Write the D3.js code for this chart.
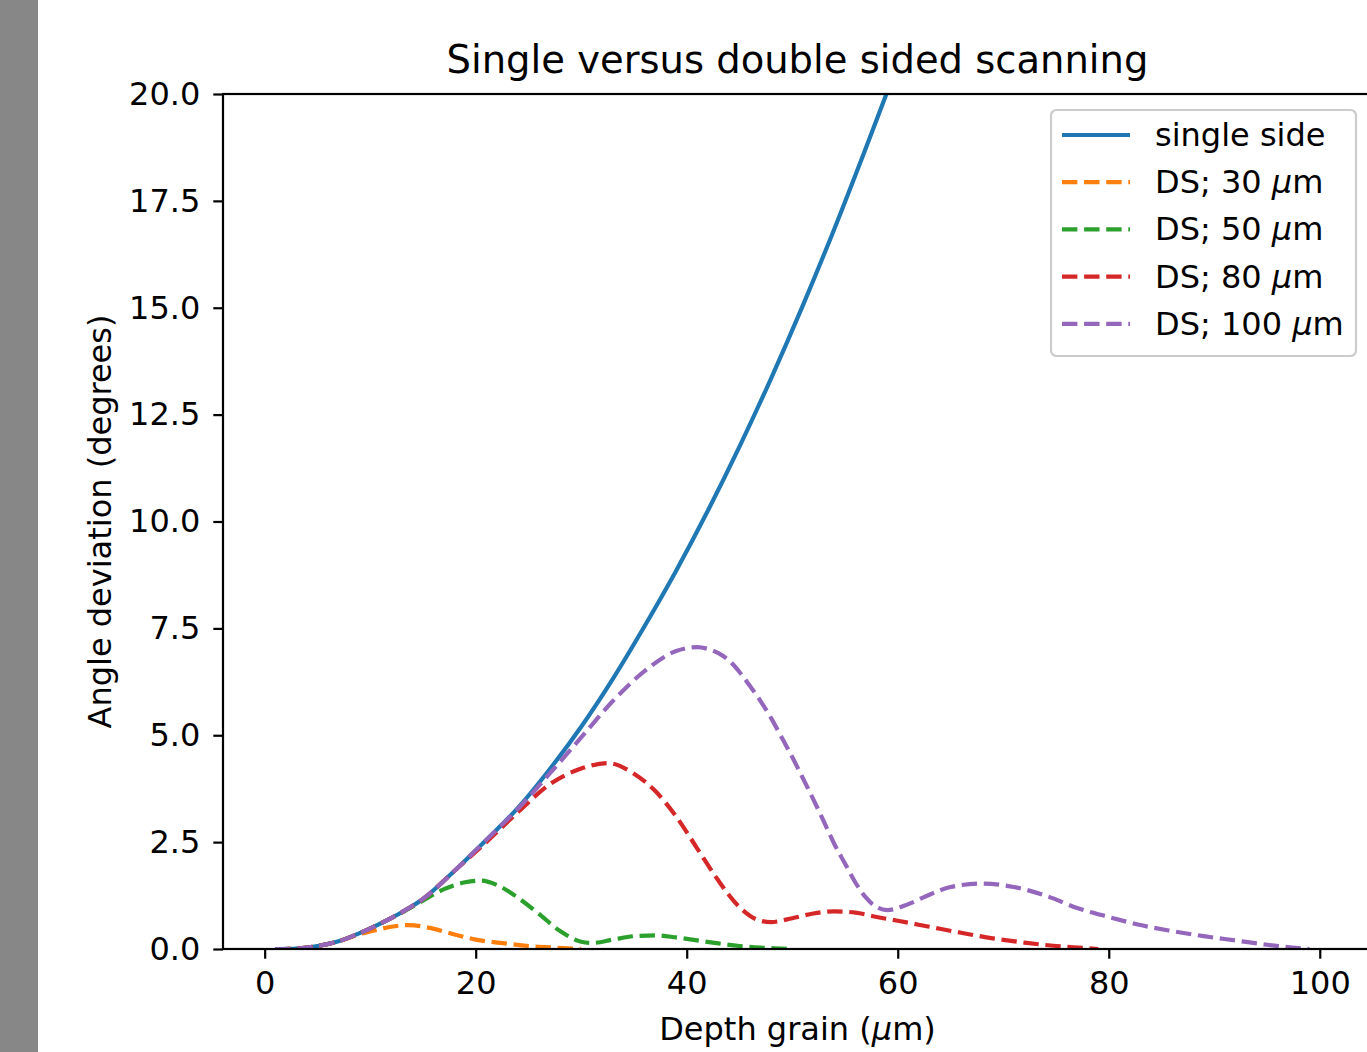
<!DOCTYPE html>
<html>
<head>
<meta charset="utf-8">
<script src="https://cdn.jsdelivr.net/npm/d3@7"></script>
<style>
  body { margin: 0; background: #fff; }
  text { font-family: "DejaVu Sans", sans-serif; fill: #000; }
</style>
</head>
<body>
<svg id="canvas" width="1367" height="1052"></svg>
<script>
// values
const singleX = [1, 3, 5, 7, 9, 11, 13, 15, 18, 21, 24, 27, 30, 33, 36, 39, 42, 45, 48, 51, 54, 57, 60, 62];
const singleY = [0, 0.01, 0.07, 0.18, 0.37, 0.6, 0.86, 1.17, 1.83, 2.55, 3.3, 4.2, 5.2, 6.32, 7.55, 8.85, 10.25, 11.75, 13.35, 15.05, 16.85, 18.75, 20.7, 22.0];

const ds30X = [1, 3, 5, 7, 9, 10.2, 12, 13.7, 15.5, 18, 20, 22.8, 25, 27.6, 30];
const ds30Y = [0, 0.01, 0.07, 0.18, 0.35, 0.42, 0.52, 0.56, 0.5, 0.34, 0.22, 0.13, 0.07, 0.03, 0];

const ds50X = [1, 3, 5, 7, 9, 11, 13, 15, 17, 19, 20.5, 22, 24, 26, 28, 30, 31, 33, 35, 37, 39, 41, 43, 45, 47, 49, 50];
const ds50Y = [0, 0.01, 0.07, 0.18, 0.37, 0.6, 0.85, 1.13, 1.4, 1.56, 1.6, 1.5, 1.2, 0.82, 0.42, 0.17, 0.14, 0.22, 0.3, 0.32, 0.27, 0.2, 0.13, 0.07, 0.03, 0.01, 0];

const ds80X = [1, 3, 5, 7, 9, 11, 13, 15, 18, 21, 24, 27, 30, 32.5, 35, 37, 39, 41, 43, 45, 47, 48, 50, 52, 54, 56, 58, 60, 63, 66, 69, 72, 75, 78, 79];
const ds80Y = [0, 0.01, 0.07, 0.18, 0.37, 0.6, 0.86, 1.17, 1.83, 2.5, 3.2, 3.85, 4.22, 4.35, 4.1, 3.7, 3.1, 2.35, 1.6, 0.98, 0.66, 0.63, 0.72, 0.83, 0.88, 0.85, 0.75, 0.66, 0.52, 0.38, 0.25, 0.15, 0.07, 0.02, 0];

const ds100X = [1, 3, 5, 7, 9, 11, 13, 15, 18, 21, 24, 27, 30, 33, 36, 39, 41, 42, 43, 44, 45, 46, 47, 48, 49, 50, 51, 52, 53, 54, 55, 56, 57, 58, 59, 61, 63, 65, 68, 71, 74, 77, 80, 83, 86, 89, 92, 95, 98, 99];
const ds100Y = [0, 0.01, 0.07, 0.18, 0.37, 0.6, 0.86, 1.17, 1.83, 2.55, 3.28, 4.1, 4.95, 5.8, 6.5, 6.97, 7.06, 7.02, 6.92, 6.75, 6.48, 6.15, 5.8, 5.4, 4.95, 4.49, 4.0, 3.5, 2.98, 2.45, 2.0, 1.55, 1.2, 0.98, 0.91, 1.05, 1.27, 1.45, 1.53, 1.45, 1.25, 0.96, 0.75, 0.56, 0.42, 0.3, 0.2, 0.1, 0.02, 0];

const seriesNames = ['single side', 'DS; 30 ', 'DS; 50 ', 'DS; 80 ', 'DS; 100 '];
const seriesColors = ['#1f77b4', '#ff7f0e', '#2ca02c', '#d62728', '#9467bd'];
const xTicks = [0, 20, 40, 60, 80, 100];
const yTicks = [0, 2.5, 5, 7.5, 10, 12.5, 15, 17.5, 20];

const series = [
    {xs: singleX, ys: singleY, dashed: false},
    {xs: ds30X, ys: ds30Y, dashed: true},
    {xs: ds50X, ys: ds50Y, dashed: true},
    {xs: ds80X, ys: ds80Y, dashed: true},
    {xs: ds100X, ys: ds100Y, dashed: true}
];

const svg = d3.select('#canvas');
const axL = 223, axR = 1372, axT = 94, axB = 949;
const labelSize = '32px';

// grey strip on the left edge
svg.append('rect').attr('x', 0).attr('y', 0).attr('width', 38).attr('height', 1052).style('fill', '#878787');

const x = d3.scaleLinear().domain([-3.95, 104.95]).range([axL, axR]);
const y = d3.scaleLinear().domain([0, 20]).range([axB, axT]);

svg.append('clipPath').attr('id', 'clip')
    .append('rect').attr('x', axL).attr('y', axT).attr('width', axR - axL).attr('height', axB - axT);

const line = d3.line()
    .x(d => x(d[0]))
    .y(d => y(d[1]))
    .curve(d3.curveMonotoneX);

const plot = svg.append('g').attr('clip-path', 'url(#clip)');
series.forEach((s, i) => {
    plot.append('path')
        .datum(s.xs.map((v, j) => [v, s.ys[j]]))
        .attr('d', line)
        .style('fill', 'none')
        .style('stroke', seriesColors[i])
        .style('stroke-width', 4.2)
        .style('stroke-dasharray', s.dashed ? '15.4,6.7' : null);
});

// axes
const xAxis = svg.append('g').attr('transform', `translate(0,${axB})`)
    .call(d3.axisBottom(x).tickValues(xTicks).tickSize(9.7).tickPadding(13).tickFormat(d3.format('d')));
const yAxis = svg.append('g').attr('transform', `translate(${axL},0)`)
    .call(d3.axisLeft(y).tickValues(yTicks).tickSize(9.7).tickPadding(13).tickFormat(d3.format('.1f')));

[xAxis, yAxis].forEach(a => {
    a.select('.domain').remove();
    a.selectAll('line').style('stroke', '#000').style('stroke-width', 2.2);
    a.selectAll('text').style('font-size', labelSize).style('font-family', '"DejaVu Sans", sans-serif');
});

// spines
svg.append('rect')
    .attr('x', axL).attr('y', axT).attr('width', axR - axL).attr('height', axB - axT)
    .style('fill', 'none').style('stroke', '#000').style('stroke-width', 2.2);

// title and labels
svg.append('text').attr('x', (axL + axR) / 2).attr('y', 73)
    .attr('text-anchor', 'middle').style('font-size', '38.5px')
    .text('Single versus double sided scanning');

const xl = svg.append('text').attr('x', (axL + axR) / 2).attr('y', 1040)
    .attr('text-anchor', 'middle').style('font-size', labelSize);
xl.append('tspan').text('Depth grain (');
xl.append('tspan').style('font-style', 'italic').text('\u03bc');
xl.append('tspan').text('m)');

svg.append('text')
    .attr('transform', `translate(111,${(axT + axB) / 2}) rotate(-90)`)
    .attr('text-anchor', 'middle').style('font-size', labelSize)
    .text('Angle deviation (degrees)');

// legend
const legend = svg.append('g');
legend.append('rect')
    .attr('x', 1051).attr('y', 110).attr('width', 305).attr('height', 246)
    .attr('rx', 5.5)
    .style('fill', '#fff').style('fill-opacity', 0.8)
    .style('stroke', '#cccccc').style('stroke-width', 2.2);

seriesNames.forEach((name, i) => {
    const cy = 135 + i * 47.2;
    legend.append('line')
        .attr('x1', 1062).attr('x2', 1130).attr('y1', cy).attr('y2', cy)
        .style('stroke', seriesColors[i]).style('stroke-width', 4.2)
        .style('stroke-dasharray', i > 0 ? '15.4,6.7' : null);
    const t = legend.append('text').attr('x', 1155).attr('y', cy + 11)
        .style('font-size', labelSize);
    t.append('tspan').text(name);
    if (i > 0) {
        t.append('tspan').style('font-style', 'italic').text('\u03bc');
        t.append('tspan').text('m');
    }
});
</script>
</body>
</html>
